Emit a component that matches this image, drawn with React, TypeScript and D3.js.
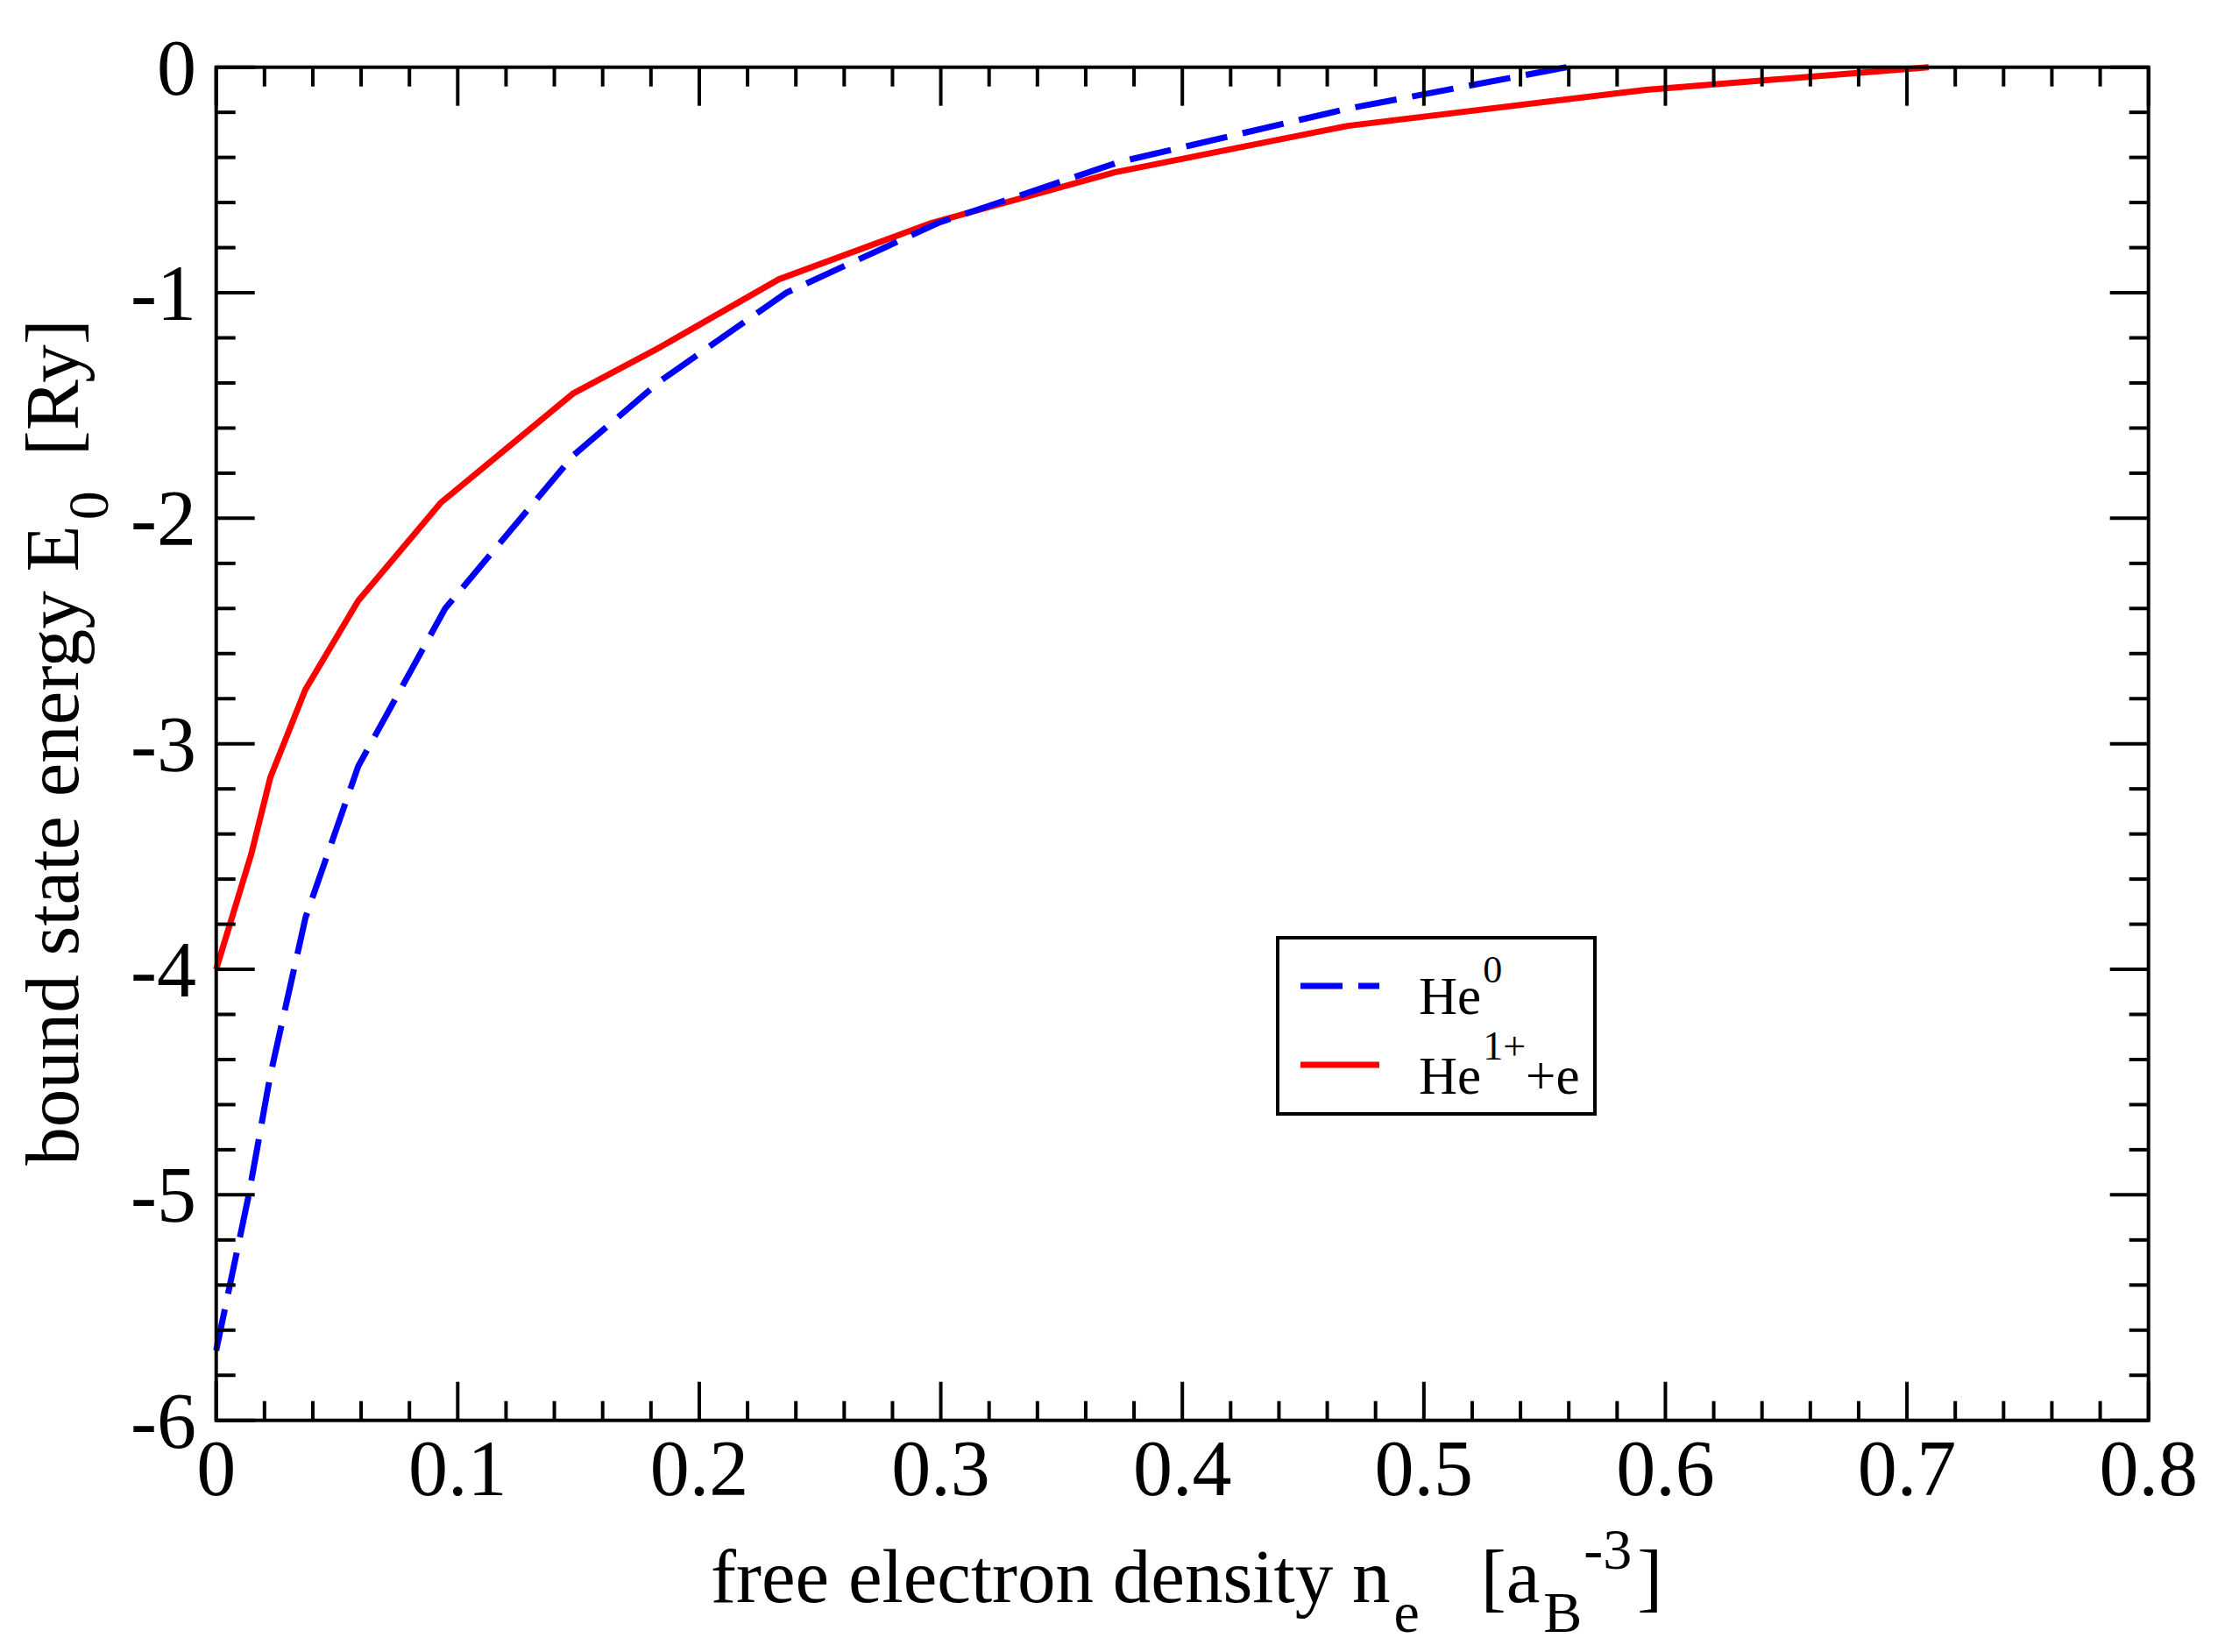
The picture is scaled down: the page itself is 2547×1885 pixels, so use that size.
import React, { useEffect } from 'react'
import * as d3 from 'd3'

// He^0 bound state energy vs free electron density
const densityHe0 = [0, 0.0135, 0.0224, 0.037, 0.0588, 0.0948, 0.148, 0.184, 0.236, 0.299, 0.374, 0.468, 0.559]
const energyHe0 = [-5.69, -5.0, -4.47, -3.77, -3.10, -2.40, -1.72, -1.39, -1.00, -0.69, -0.42, -0.185, 0]

// He^1+ + e bound state energy vs free electron density
const densityHe1 = [0, 0.0145, 0.0224, 0.0369, 0.0588, 0.0931, 0.148, 0.184, 0.233, 0.2963, 0.372, 0.4685, 0.592, 0.709]
const energyHe1 = [-4.0, -3.49, -3.15, -2.76, -2.366, -1.93, -1.445, -1.24, -0.94, -0.69, -0.466, -0.26, -0.10, 0]

const xTickLabels = ['0', '0.1', '0.2', '0.3', '0.4', '0.5', '0.6', '0.7', '0.8']
const yTickLabels = ['0', '-1', '-2', '-3', '-4', '-5', '-6']

const width = 2547
const height = 1885
const left = 246.7
const right = 2451.7
const top = 76.7
const bottom = 1620.7
const font = '"Liberation Serif", "Times New Roman", serif'

export default function App() {
  useEffect(() => {
    document.body.style.margin = '0'
  }, [])

  const x = d3.scaleLinear().domain([0, 0.8]).range([left, right])
  const y = d3.scaleLinear().domain([-6, 0]).range([bottom, top])

  const line = d3.line<[number, number]>()
    .x(d => x(d[0]))
    .y(d => y(d[1]))
    .curve(d3.curveLinear)

  const he0 = densityHe0.map((n, i) => [n, energyHe0[i]] as [number, number])
  const he1 = densityHe1.map((n, i) => [n, energyHe1[i]] as [number, number])

  const xMinor = x.ticks(40)
  const yMinor = y.ticks(30)
  const isMajor = (v: number, step: number) => Math.abs(v / step - Math.round(v / step)) < 1e-6
  const minorLen = 22
  const majorLen = 44

  return (
    <svg width={width} height={height} style={{ display: 'block', background: '#fff' }}>
      <rect x={0} y={0} width={width} height={height} fill="#fff" />

      {/* curves */}
      <path d={line(he1) || ''} fill="none" stroke="#ff0000" strokeWidth={7} strokeLinejoin="round" />
      <path d={line(he0) || ''} fill="none" stroke="#0000ff" strokeWidth={7} strokeDasharray="48,18" />

      {/* ticks on all four sides, pointing inward */}
      <g stroke="#000" strokeWidth={4}>
        {xMinor.map((v, i) => {
          const len = isMajor(v, 0.1) ? majorLen : minorLen
          return (
            <g key={'x' + i}>
              <line x1={x(v)} x2={x(v)} y1={bottom} y2={bottom - len} />
              <line x1={x(v)} x2={x(v)} y1={top} y2={top + len} />
            </g>
          )
        })}
        {yMinor.map((v, i) => {
          const len = isMajor(v, 1) ? majorLen : minorLen
          return (
            <g key={'y' + i}>
              <line x1={left} x2={left + len} y1={y(v)} y2={y(v)} />
              <line x1={right} x2={right - len} y1={y(v)} y2={y(v)} />
            </g>
          )
        })}
      </g>
      <rect x={left} y={top} width={right - left} height={bottom - top} fill="none" stroke="#000" strokeWidth={4} />

      {/* tick labels */}
      <g fontFamily={font} fontSize={90} fill="#000">
        {xTickLabels.map((t, i) => (
          <text key={t} x={x(i * 0.1)} y={bottom + 85} textAnchor="middle">{t}</text>
        ))}
        {yTickLabels.map((t, i) => (
          <text key={t} x={224} y={y(-i) + 31} textAnchor="end">{t}</text>
        ))}
      </g>

      {/* axis titles */}
      <text x={811} y={1828} fontFamily={font} fontSize={87} fill="#000">
        <tspan>free electron density n</tspan>
        <tspan fontSize={66} dy={34} dx={4}>e</tspan>
        <tspan dy={-34} dx={70}>[a</tspan>
        <tspan fontSize={66} dy={34} dx={4}>B</tspan>
        <tspan fontSize={66} dy={-72} dx={2}>-3</tspan>
        <tspan dy={38} dx={6}>]</tspan>
      </text>
      <text transform={`translate(89,847) rotate(-90)`} textAnchor="middle"
        fontFamily={font} fontSize={87} fill="#000">
        <tspan>bound state energy E</tspan>
        <tspan fontSize={66} dy={34} dx={6}>0</tspan>
        <tspan dy={-34} dx={40}>[Ry]</tspan>
      </text>

      {/* legend */}
      <rect x={1458} y={1070} width={362} height={201} fill="#fff" stroke="#000" strokeWidth={4} />
      <line x1={1484} x2={1574} y1={1125} y2={1125} stroke="#0000ff" strokeWidth={7} strokeDasharray="48,18" />
      <line x1={1484} x2={1574} y1={1215} y2={1215} stroke="#ff0000" strokeWidth={7} />
      <text x={1619} y={1157} fontFamily={font} fontSize={61} fill="#000">
        <tspan>He</tspan>
        <tspan fontSize={44} dy={-36} dx={2}>0</tspan>
      </text>
      <text x={1619} y={1248} fontFamily={font} fontSize={61} fill="#000">
        <tspan>He</tspan>
        <tspan fontSize={46} dy={-39} dx={2}>1+</tspan>
        <tspan dy={39}>+e</tspan>
      </text>
    </svg>
  )
}
